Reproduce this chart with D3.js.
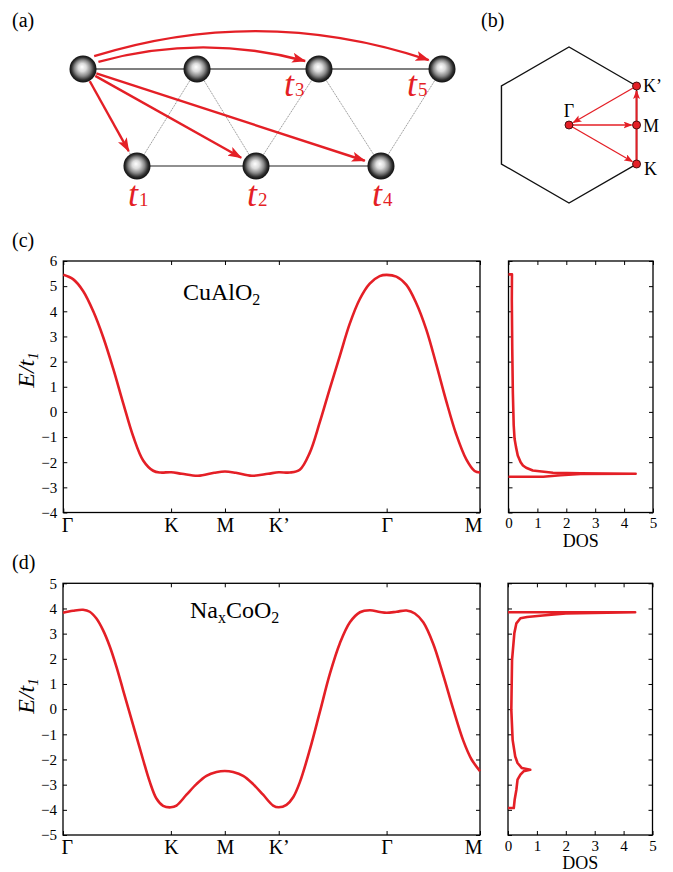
<!DOCTYPE html>
<html>
<head>
<meta charset="utf-8">
<script src="https://cdn.jsdelivr.net/npm/d3@7"></script>
<style>
  body { margin: 0; background: #fff; }
  svg text { font-family: "Liberation Serif", "Times New Roman", serif; }
</style>
</head>
<body>
<div id="vis-holder"></div>
<script>
// ---------------- data ----------------
// k-path positions, |ΓK| = 1
const pathLabels = ["Γ", "K", "M", "K’", "Γ", "M"];
const pathTicks = [0, 1, 1.5, 2, 3, 3.866];

// (c) CuAlO2 band
const cuK = [0, 0.093, 0.185, 0.278, 0.371, 0.463, 0.556, 0.649, 0.741, 0.834, 0.9, 1.0, 1.1, 1.25, 1.4, 1.5,
  1.6, 1.75, 1.9, 2.0, 2.101, 2.194, 2.287, 2.379, 2.472, 2.565, 2.657, 2.75, 2.843, 2.935, 3.0,
  3.09, 3.183, 3.275, 3.368, 3.461, 3.553, 3.646, 3.739, 3.816, 3.866];
const cuE = [5.45, 5.27, 4.8, 4.0, 2.96, 1.72, 0.34, -0.98, -1.93, -2.34, -2.41, -2.40, -2.46, -2.54, -2.42, -2.37,
  -2.42, -2.54, -2.46, -2.40, -2.41, -2.3, -1.62, -0.42, 0.92, 2.22, 3.5, 4.48, 5.1, 5.4, 5.45,
  5.38, 5.05, 4.32, 3.27, 1.88, 0.43, -0.9, -1.89, -2.35, -2.41];

// (d) NaxCoO2 band
const naK = [0, 0.093, 0.186, 0.248, 0.31, 0.371, 0.433, 0.495, 0.557, 0.619, 0.681, 0.742, 0.804, 0.866, 0.928,
  1.0, 1.052, 1.145, 1.237, 1.33, 1.423, 1.5, 1.577, 1.67, 1.763, 1.855, 1.948, 2.0,
  2.072, 2.134, 2.196, 2.289, 2.382, 2.474, 2.567, 2.66, 2.753, 2.845, 2.938, 3.0,
  3.092, 3.185, 3.262, 3.34, 3.432, 3.525, 3.618, 3.711, 3.788, 3.866];
const naE = [3.83, 3.91, 3.95, 3.87, 3.6, 3.14, 2.5, 1.69, 0.76, -0.17, -1.09, -2.0, -2.88, -3.55, -3.84,
  -3.9, -3.83, -3.4, -2.98, -2.65, -2.5, -2.46, -2.5, -2.65, -2.98, -3.4, -3.83, -3.9,
  -3.8, -3.5, -2.9, -1.6, -0.1, 1.4, 2.62, 3.45, 3.85, 3.93, 3.86, 3.83,
  3.87, 3.92, 3.8, 3.45, 2.6, 1.35, 0.0, -1.25, -2.0, -2.46];

// DOS traces (DOS value, energy)
const cuDos = [0, 1.2, 1.8, 2.5, 4.4, 2.5, 1.54, 0.84, 0.61, 0.5, 0.42, 0.32, 0.26, 0.21, 0.18, 0.15, 0.13, 0.115, 0.12, 0];
const cuDosE = [-2.58, -2.58, -2.52, -2.47, -2.46, -2.44, -2.42, -2.33, -2.22, -2.13, -2.0, -1.73, -1.4, -1.07, -0.53, 0.79, 2.5, 4.45, 5.47, 5.47];

const naDos = [0, 0.2, 0.23, 0.29, 0.33, 0.43, 0.54, 0.77, 0.48, 0.33, 0.25, 0.16, 0.115, 0.14, 0.22, 0.29, 0.43, 0.66, 1.2, 2.0, 4.4, 0];
const naDosE = [-3.93, -3.93, -3.6, -3.2, -2.8, -2.6, -2.47, -2.41, -2.34, -2.14, -1.88, -1.22, -0.03, 1.96, 3.02, 3.41, 3.61, 3.66, 3.72, 3.8, 3.85, 3.85];

const cuTicks = [-4, -3, -2, -1, 0, 1, 2, 3, 4, 5, 6];
const naTicks = [-5, -4, -3, -2, -1, 0, 1, 2, 3, 4, 5];
const dosTicks = [0, 1, 2, 3, 4, 5];

// (a) lattice: columns of the two rows, hoppings t1..t5
const topSites = [0, 0.953, 1.972, 3];
const botSites = [0.451, 1.446, 2.49];
const bonds = [[0, 0], [1, 0], [1, 1], [2, 1], [2, 2], [3, 2]];
const hopNames = ["1", "2", "3", "4", "5"];
const hopRow = [1, 1, 0, 1, 0];
const hopSite = [0, 1, 2, 2, 3];

// (b) Brillouin zone points (units of |ΓK|)
const bzNames = ["Γ", "K", "M", "K’"];
const bzX = [0, 0.866, 0.866, 0.866];
const bzY = [0, -0.5, 0, 0.5];
const bzPath = [[0, 1], [0, 2], [1, 3], [3, 0]];

// ---------------- drawing ----------------
const W = 673, H = 872;
const red = "#e41f26";
const serif = "'Liberation Serif', 'Times New Roman', serif";

const svg = d3.select("#vis-holder").append("svg")
  .attr("width", W).attr("height", H)
  .attr("font-family", serif);
const defs = svg.append("defs");

function marker(id, len, wid) {
  defs.append("marker").attr("id", id)
    .attr("markerUnits", "userSpaceOnUse")
    .attr("viewBox", `0 0 ${len} ${wid}`)
    .attr("markerWidth", len).attr("markerHeight", wid)
    .attr("refX", len - 1).attr("refY", wid / 2)
    .attr("orient", "auto")
    .append("path")
    .attr("d", `M0,0L${len},${wid / 2}L0,${wid}L${len * 0.22},${wid / 2}Z`)
    .attr("fill", red);
}
marker("headA", 14, 10);
marker("headB", 9, 7);

const grad = defs.append("radialGradient").attr("id", "ball")
  .attr("cx", "50%").attr("cy", "50%").attr("r", "50%")
  .attr("fx", "46%").attr("fy", "42%");
[[0, "#ffffff"], [0.3, "#dcdcdc"], [0.6, "#888"], [0.84, "#2e2e2e"], [1, "#0e0e0e"]]
  .forEach(s => grad.append("stop").attr("offset", s[0]).attr("stop-color", s[1]));

function panelLabel(txt, x, y) {
  svg.append("text").attr("x", x).attr("y", y).attr("font-size", 20).text(txt);
}
panelLabel("(a)", 12, 27);
panelLabel("(b)", 481, 27);
panelLabel("(c)", 12, 247);
panelLabel("(d)", 12, 569);

// ---- (a) hopping scheme ----
{
  const lx = d3.scaleLinear().domain([0, 3]).range([83, 442]);
  const ly = d3.scaleLinear().domain([0, 1]).range([69, 166]);
  const g = svg.append("g");
  const site = (row, i) => row === 0 ? [lx(topSites[i]), ly(0)] : [lx(botSites[i]), ly(1)];

  g.selectAll(".bond").data(bonds).enter().append("line")
    .attr("x1", d => site(0, d[0])[0]).attr("y1", d => site(0, d[0])[1])
    .attr("x2", d => site(1, d[1])[0]).attr("y2", d => site(1, d[1])[1])
    .attr("stroke", "#777").attr("stroke-width", 0.8).attr("stroke-dasharray", "1.2,0.8");

  g.append("line").attr("x1", site(0, 0)[0]).attr("y1", ly(0)).attr("x2", site(0, 3)[0]).attr("y2", ly(0))
    .attr("stroke", "#000").attr("stroke-width", 1.2);
  g.append("line").attr("x1", site(1, 0)[0]).attr("y1", ly(1)).attr("x2", site(1, 2)[0]).attr("y2", ly(1))
    .attr("stroke", "#222").attr("stroke-width", 1.1);

  const sites = topSites.map((s, i) => site(0, i)).concat(botSites.map((s, i) => site(1, i)));
  g.selectAll(".ball").data(sites).enter().append("circle")
    .attr("cx", d => d[0]).attr("cy", d => d[1]).attr("r", 13.5)
    .attr("fill", "url(#ball)");

  const src = site(0, 0);
  hopNames.forEach((n, h) => {
    const tgt = site(hopRow[h], hopSite[h]);
    let d;
    if (hopRow[h] === 1) {
      const dx = tgt[0] - src[0], dy = tgt[1] - src[1], L = Math.hypot(dx, dy);
      const ux = dx / L, uy = dy / L;
      d = `M${src[0] + ux * 14},${src[1] + uy * 14}L${tgt[0] - ux * 17},${tgt[1] - uy * 17}`;
    } else {
      const far = hopSite[h] === 3;
      const a1 = (far ? -49 : -25) * Math.PI / 180, a2 = (far ? 214 : 210) * Math.PI / 180;
      const s = [src[0] + 17 * Math.cos(a1), src[1] + 17 * Math.sin(a1)];
      const e = [tgt[0] + 16 * Math.cos(a2), tgt[1] + 16 * Math.sin(a2)];
      const lift = far ? 54 : 28;
      const cx = (s[0] + e[0]) / 2, cy = (s[1] + e[1]) / 2 - lift;
      d = `M${s[0]},${s[1]}Q${cx},${cy} ${e[0]},${e[1]}`;
    }
    g.append("path").attr("d", d).attr("fill", "none")
      .attr("stroke", red).attr("stroke-width", 2.4)
      .attr("marker-end", "url(#headA)");

    const lxp = hopRow[h] === 1 ? tgt[0] - 9 : tgt[0] - 35;
    const lyp = hopRow[h] === 1 ? tgt[1] + 40 : tgt[1] + 27;
    const t = g.append("text").attr("x", lxp).attr("y", lyp).attr("fill", red);
    t.append("tspan").attr("font-size", 36).attr("font-style", "italic").text("t");
    t.append("tspan").attr("font-size", 19).attr("dx", 1).text(n);
  });
}

// ---- (b) Brillouin zone ----
{
  const bx = d3.scaleLinear().domain([0, 1]).range([569, 647]);
  const by = d3.scaleLinear().domain([0, 1]).range([125, 47]);
  const g = svg.append("g");
  const hex = d3.range(7).map(i => [Math.cos(Math.PI / 6 + i * Math.PI / 3), Math.sin(Math.PI / 6 + i * Math.PI / 3)]);
  g.append("path")
    .attr("d", d3.line().x(d => bx(d[0])).y(d => by(d[1]))(hex))
    .attr("fill", "none").attr("stroke", "#111").attr("stroke-width", 1.4);

  bzPath.forEach(p => {
    const x1 = bx(bzX[p[0]]), y1 = by(bzY[p[0]]), x2 = bx(bzX[p[1]]), y2 = by(bzY[p[1]]);
    const L = Math.hypot(x2 - x1, y2 - y1), ux = (x2 - x1) / L, uy = (y2 - y1) / L;
    const edge = p[0] === 1 && p[1] === 3;
    g.append("line")
      .attr("x1", x1).attr("y1", y1).attr("x2", x2 - ux * 5).attr("y2", y2 - uy * 5)
      .attr("stroke", red).attr("stroke-width", edge ? 2 : 1.3)
      .attr("marker-end", "url(#headB)");
  });

  g.selectAll(".pt").data(bzNames).enter().append("circle")
    .attr("cx", (d, i) => bx(bzX[i])).attr("cy", (d, i) => by(bzY[i])).attr("r", 4)
    .attr("fill", red).attr("stroke", "#3a0a0a").attr("stroke-width", 0.9);

  const off = [[0, -8], [7.5, 11], [6.5, 6.5], [6.5, 6]];
  g.selectAll(".lab").data(bzNames).enter().append("text")
    .attr("x", (d, i) => bx(bzX[i]) + off[i][0])
    .attr("y", (d, i) => by(bzY[i]) + off[i][1])
    .attr("text-anchor", (d, i) => i === 0 ? "middle" : "start")
    .attr("font-size", 18).text(d => d);
}

// ---- (c), (d) bands + DOS ----
function cleanAxis(a) {
  a.attr("font-family", null).attr("font-size", null);
  a.select(".domain").remove();
}

function bandPanel(o) {
  const x = d3.scaleLinear().domain([0, pathTicks[pathTicks.length - 1]]).range([o.left, o.right]);
  const y = d3.scaleLinear().domain([o.yTicks[0], o.yTicks[o.yTicks.length - 1]]).range([o.bottom, o.top]);
  const xd = d3.scaleLinear().domain([0, 5]).range([o.dosLeft, o.dosRight]);
  const g = svg.append("g");

  // band frame + axes
  g.append("g").attr("transform", `translate(${o.left},0)`)
    .call(d3.axisLeft(y).tickValues(o.yTicks).tickSize(-4).tickPadding(6).tickFormat(d3.format("d")))
    .call(cleanAxis)
    .call(a => a.selectAll("text").attr("font-size", 15));
  g.append("g").attr("transform", `translate(${o.right},0)`)
    .call(d3.axisRight(y).tickValues(o.yTicks).tickSize(-4).tickFormat(""))
    .call(cleanAxis);
  g.append("g").attr("transform", `translate(0,${o.top})`)
    .call(d3.axisTop(x).tickValues(pathTicks).tickSize(-4).tickFormat(""))
    .call(cleanAxis);
  g.append("g").attr("transform", `translate(0,${o.bottom})`)
    .call(d3.axisBottom(x).tickValues(pathTicks).tickSize(-4).tickPadding(5)
      .tickFormat((d, i) => pathLabels[i]))
    .call(cleanAxis)
    .call(a => a.selectAll("text").attr("font-size", 20)
      .attr("text-anchor", (d, i) => i === 0 ? "start" : i === pathTicks.length - 1 ? "end" : "middle")
      .attr("x", (d, i) => i === 0 ? -2 : i === pathTicks.length - 1 ? 2 : 0));
  g.append("rect").attr("x", o.left).attr("y", o.top)
    .attr("width", o.right - o.left).attr("height", o.bottom - o.top)
    .attr("fill", "none").attr("stroke", "#000").attr("stroke-width", 1.3);

  g.append("path").datum(d3.zip(o.k, o.e))
    .attr("d", d3.line().x(d => x(d[0])).y(d => y(d[1])).curve(d3.curveCatmullRom.alpha(0.5)))
    .attr("fill", "none").attr("stroke", red).attr("stroke-width", 2.6);

  // compound label
  const t = g.append("text").attr("x", o.nameX).attr("y", o.nameY).attr("font-size", 24);
  o.name.forEach(p => {
    t.append("tspan").attr("font-size", p[1] ? 16 : 24).attr("dy", p[2]).text(p[0]);
  });

  // y label
  const yl = g.append("text").attr("transform", `translate(34,${o.labelY}) rotate(-90)`)
    .attr("text-anchor", "middle").attr("font-size", 24).attr("font-style", "italic");
  yl.append("tspan").text("E/t");
  yl.append("tspan").attr("font-size", 15).attr("dy", 4).text("1");

  // DOS frame + axes
  g.append("g").attr("transform", `translate(${o.dosLeft},0)`)
    .call(d3.axisRight(y).tickValues(o.yTicks).tickSize(4).tickFormat(""))
    .call(cleanAxis);
  g.append("g").attr("transform", `translate(${o.dosRight},0)`)
    .call(d3.axisLeft(y).tickValues(o.yTicks).tickSize(4).tickFormat(""))
    .call(cleanAxis);
  g.append("g").attr("transform", `translate(0,${o.top})`)
    .call(d3.axisBottom(xd).tickValues(dosTicks).tickSize(4).tickFormat(""))
    .call(cleanAxis);
  g.append("g").attr("transform", `translate(0,${o.bottom})`)
    .call(d3.axisBottom(xd).tickValues(dosTicks).tickSize(-4).tickPadding(5).tickFormat(d3.format("d")))
    .call(cleanAxis)
    .call(a => a.selectAll("text").attr("font-size", 15));
  g.append("rect").attr("x", o.dosLeft).attr("y", o.top)
    .attr("width", o.dosRight - o.dosLeft).attr("height", o.bottom - o.top)
    .attr("fill", "none").attr("stroke", "#000").attr("stroke-width", 1.3);
  g.append("text").attr("x", (o.dosLeft + o.dosRight) / 2).attr("y", o.bottom + 34)
    .attr("text-anchor", "middle").attr("font-size", 18).text("DOS");

  g.append("path").datum(d3.zip(o.dos, o.dosE))
    .attr("d", d3.line().x(d => xd(d[0])).y(d => y(d[1])))
    .attr("fill", "none").attr("stroke", red).attr("stroke-width", 2.6)
    .attr("stroke-linejoin", "round");
}

bandPanel({
  left: 63.3, right: 480, top: 261, bottom: 512.5, dosLeft: 508.5, dosRight: 653,
  yTicks: cuTicks, k: cuK, e: cuE, dos: cuDos, dosE: cuDosE,
  name: [["CuAlO", false, 0], ["2", true, 5]], nameX: 183, nameY: 300, labelY: 370
});
bandPanel({
  left: 63, right: 480, top: 583.3, bottom: 835, dosLeft: 508, dosRight: 652.5,
  yTicks: naTicks, k: naK, e: naE, dos: naDos, dosE: naDosE,
  name: [["Na", false, 0], ["x", true, 5], ["CoO", false, -5], ["2", true, 5]], nameX: 190, nameY: 618, labelY: 696
});
</script>
</body>
</html>
